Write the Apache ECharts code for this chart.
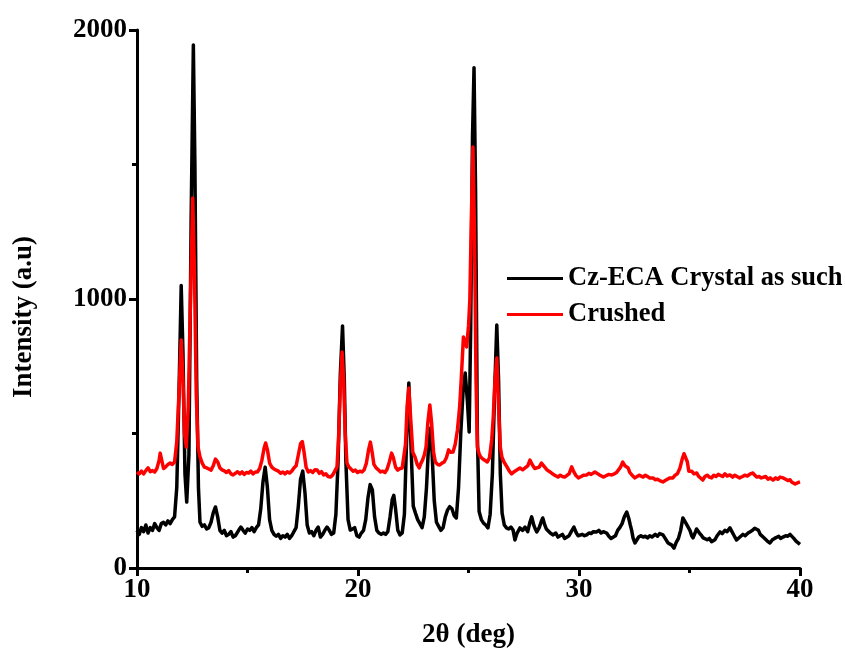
<!DOCTYPE html>
<html>
<head>
<meta charset="utf-8">
<script src="https://cdn.jsdelivr.net/npm/echarts@6/dist/echarts.min.js"></script>
<style>
  html, body { margin: 0; padding: 0; background: #fff; }
  #chart { width: 845px; height: 655px; }
</style>
</head>
<body>
<div id="chart"></div>
<script>
// Powder XRD patterns: [2θ (deg), intensity (a.u)]
const seriesNames = ['Cz-ECA Crystal as such', 'Crushed'];

const crystalPattern = [
  [10.0,140],[10.1,125],[10.2,150],[10.3,135],[10.4,160],[10.5,130],[10.6,150],[10.7,140],[10.8,165],[10.9,150],
  [11.0,140],[11.1,165],[11.2,170],[11.3,160],[11.4,175],[11.5,165],[11.6,180],[11.7,190],[11.8,300],[11.9,650],
  [12.0,1050],[12.08,800],[12.17,350],[12.25,245],[12.35,420],[12.45,1300],[12.55,1944],[12.62,1500],[12.7,700],[12.78,300],
  [12.85,170],[12.95,155],[13.05,160],[13.15,145],[13.25,150],[13.35,170],[13.45,205],[13.55,227],[13.65,190],[13.75,140],
  [13.85,130],[13.95,140],[14.05,120],[14.15,125],[14.25,135],[14.35,115],[14.45,120],[14.6,140],[14.7,152],[14.8,140],
  [14.9,130],[15.0,145],[15.1,140],[15.2,150],[15.3,135],[15.4,150],[15.5,160],[15.6,220],[15.7,320],[15.8,375],
  [15.9,300],[16.0,180],[16.1,140],[16.2,125],[16.3,118],[16.4,125],[16.5,110],[16.6,120],[16.7,115],[16.8,125],
  [16.9,110],[17.0,120],[17.1,135],[17.2,150],[17.3,230],[17.4,330],[17.5,360],[17.6,280],[17.7,160],[17.8,130],
  [17.9,135],[18.0,120],[18.1,140],[18.2,152],[18.3,115],[18.4,125],[18.5,140],[18.6,152],[18.7,140],[18.8,125],
  [18.9,130],[19.0,200],[19.1,400],[19.2,720],[19.3,900],[19.38,700],[19.45,400],[19.55,180],[19.65,141],[19.75,145],
  [19.85,150],[19.95,120],[20.05,115],[20.15,130],[20.25,140],[20.35,180],[20.45,260],[20.55,310],[20.65,290],[20.75,190],
  [20.85,140],[20.95,130],[21.05,125],[21.15,130],[21.25,125],[21.35,135],[21.45,190],[21.55,255],[21.62,270],[21.7,220],
  [21.8,140],[21.9,123],[22.0,130],[22.1,200],[22.2,480],[22.3,688],[22.4,450],[22.5,230],[22.6,204],[22.7,180],
  [22.8,165],[22.9,150],[23.0,190],[23.1,300],[23.2,470],[23.28,520],[23.35,430],[23.45,250],[23.55,170],[23.65,155],
  [23.75,140],[23.85,150],[23.95,190],[24.05,215],[24.15,228],[24.25,220],[24.35,195],[24.45,186],[24.55,300],[24.65,500],
  [24.75,650],[24.85,725],[24.95,620],[25.03,506],[25.1,900],[25.18,1600],[25.25,1860],[25.32,1400],[25.4,500],[25.48,210],
  [25.58,180],[25.68,167],[25.78,160],[25.88,149],[25.98,200],[26.08,350],[26.18,650],[26.28,903],[26.36,700],[26.44,350],
  [26.52,204],[26.62,160],[26.72,149],[26.82,145],[26.92,152],[27.02,140],[27.1,104],[27.2,130],[27.33,149],[27.45,140],
  [27.56,152],[27.68,135],[27.78,170],[27.86,190],[27.95,160],[28.02,145],[28.09,134],[28.2,150],[28.3,175],[28.36,186],
  [28.45,160],[28.52,145],[28.6,141],[28.7,130],[28.83,123],[28.95,130],[29.05,115],[29.14,115],[29.25,125],[29.35,110],
  [29.44,115],[29.55,120],[29.65,135],[29.77,152],[29.88,130],[29.96,120],[30.04,115],[30.15,125],[30.25,120],[30.35,123],
  [30.45,130],[30.55,128],[30.65,135],[30.8,134],[30.9,140],[31.0,130],[31.1,135],[31.25,130],[31.35,118],[31.45,110],
  [31.54,104],[31.65,120],[31.75,140],[31.86,152],[31.95,165],[32.05,190],[32.16,208],[32.25,185],[32.32,160],[32.38,141],
  [32.45,110],[32.53,93],[32.62,105],[32.7,115],[32.8,120],[32.9,115],[33.0,118],[33.1,112],[33.2,120],[33.3,115],
  [33.35,112],[33.45,125],[33.55,118],[33.65,128],[33.8,123],[33.9,110],[34.03,93],[34.12,100],[34.2,85],[34.3,74],
  [34.4,95],[34.5,110],[34.6,140],[34.7,186],[34.78,180],[34.85,165],[34.93,167],[35.02,140],[35.1,120],[35.16,112],
  [35.25,130],[35.32,145],[35.38,149],[35.45,130],[35.55,120],[35.62,112],[35.7,112],[35.8,105],[35.9,110],[36.0,98],
  [36.07,93],[36.15,105],[36.25,120],[36.38,134],[36.48,128],[36.6,140],[36.7,135],[36.83,149],[36.92,135],[37.02,120],
  [37.13,104],[37.22,110],[37.32,118],[37.42,125],[37.52,120],[37.65,130],[37.75,135],[37.85,140],[37.95,148],[38.04,152],
  [38.12,140],[38.2,125],[38.33,115],[38.42,110],[38.52,100],[38.64,93],[38.75,105],[38.85,110],[38.94,112],[39.04,118],
  [39.12,110],[39.23,115],[39.35,120],[39.45,118],[39.55,125],[39.62,123],[39.72,110],[39.82,100],[39.9,93],[40.0,88]
];

const crushedPattern = [
  [10.0,357],[10.1,350],[10.2,360],[10.3,350],[10.4,362],[10.5,372],[10.6,358],[10.7,362],[10.8,357],[10.9,370],
  [11.0,400],[11.05,427],[11.12,400],[11.2,370],[11.3,376],[11.4,385],[11.5,390],[11.6,385],[11.7,394],[11.8,470],
  [11.9,650],[12.0,848],[12.08,700],[12.15,500],[12.23,450],[12.32,600],[12.42,1000],[12.52,1375],[12.6,1100],[12.68,650],
  [12.76,450],[12.85,413],[12.95,390],[13.05,375],[13.15,372],[13.25,368],[13.35,364],[13.45,380],[13.55,405],[13.65,395],
  [13.75,372],[13.85,365],[13.95,361],[14.05,355],[14.15,362],[14.25,350],[14.35,346],[14.45,352],[14.55,358],[14.65,350],
  [14.75,357],[14.85,348],[14.95,355],[15.05,353],[15.15,360],[15.25,350],[15.35,357],[15.45,357],[15.55,370],[15.65,400],
  [15.75,445],[15.82,465],[15.9,440],[16.0,390],[16.1,375],[16.2,368],[16.3,364],[16.4,360],[16.5,352],[16.6,357],
  [16.7,350],[16.8,358],[16.9,353],[17.0,360],[17.1,372],[17.2,380],[17.3,420],[17.4,462],[17.48,470],[17.56,430],
  [17.65,375],[17.75,357],[17.85,362],[17.95,355],[18.05,365],[18.15,364],[18.25,352],[18.35,358],[18.45,346],[18.55,350],
  [18.65,340],[18.75,338],[18.85,345],[18.95,360],[19.05,376],[19.12,480],[19.2,680],[19.28,803],[19.35,700],[19.42,500],
  [19.5,390],[19.58,376],[19.68,368],[19.78,360],[19.88,364],[19.98,355],[20.08,360],[20.18,357],[20.28,365],[20.38,390],
  [20.48,440],[20.56,468],[20.64,430],[20.72,385],[20.82,372],[20.92,365],[21.02,357],[21.12,360],[21.22,355],[21.32,368],
  [21.42,395],[21.52,427],[21.6,410],[21.7,375],[21.8,364],[21.9,370],[22.0,372],[22.08,376],[22.15,460],[22.22,600],
  [22.3,669],[22.38,560],[22.48,430],[22.58,413],[22.68,385],[22.77,372],[22.85,390],[22.92,401],[23.0,420],[23.08,450],
  [23.16,540],[23.25,606],[23.33,540],[23.42,430],[23.5,394],[23.6,385],[23.7,383],[23.8,390],[23.9,394],[24.0,410],
  [24.1,439],[24.2,430],[24.3,431],[24.4,460],[24.5,513],[24.6,600],[24.67,699],[24.77,859],[24.85,840],[24.92,822],
  [25.0,900],[25.06,996],[25.13,1300],[25.2,1565],[25.27,1250],[25.34,700],[25.4,450],[25.48,425],[25.55,413],[25.65,405],
  [25.75,400],[25.85,394],[25.95,410],[26.05,476],[26.12,560],[26.2,700],[26.28,781],[26.36,600],[26.44,450],[26.51,413],
  [26.6,395],[26.65,394],[26.74,376],[26.85,360],[26.95,350],[27.0,346],[27.1,360],[27.2,365],[27.33,372],[27.45,365],
  [27.56,372],[27.68,380],[27.78,401],[27.88,385],[28.0,370],[28.09,364],[28.2,375],[28.3,390],[28.36,394],[28.45,375],
  [28.55,365],[28.69,357],[28.8,350],[28.9,345],[29.05,338],[29.15,345],[29.25,340],[29.35,338],[29.44,335],[29.55,350],
  [29.67,376],[29.75,360],[29.85,345],[29.97,335],[30.1,340],[30.2,345],[30.35,346],[30.45,352],[30.55,348],[30.72,357],
  [30.85,350],[30.95,345],[31.1,338],[31.2,342],[31.35,348],[31.48,346],[31.6,350],[31.7,355],[31.77,357],[31.88,375],
  [31.98,394],[32.08,380],[32.15,385],[32.22,372],[32.3,355],[32.4,345],[32.53,335],[32.62,340],[32.72,345],[32.8,340],
  [32.9,338],[33.0,345],[33.1,340],[33.2,335],[33.35,335],[33.45,328],[33.55,330],[33.65,325],[33.8,320],[33.9,325],
  [34.0,330],[34.1,335],[34.25,335],[34.35,345],[34.45,350],[34.57,372],[34.67,405],[34.75,425],[34.83,431],[34.9,395],
  [34.97,360],[35.02,353],[35.1,360],[35.2,350],[35.33,353],[35.42,340],[35.5,345],[35.6,327],[35.7,340],[35.8,345],
  [35.9,338],[36.0,335],[36.1,345],[36.2,340],[36.3,348],[36.38,346],[36.5,340],[36.6,350],[36.7,342],[36.83,346],
  [36.95,338],[37.05,345],[37.15,340],[37.27,335],[37.4,340],[37.5,345],[37.62,342],[37.75,350],[37.87,353],[37.95,345],
  [38.05,338],[38.15,340],[38.25,335],[38.33,335],[38.45,340],[38.55,330],[38.65,335],[38.78,327],[38.9,335],[39.0,330],
  [39.1,338],[39.23,335],[39.35,330],[39.45,325],[39.55,328],[39.62,320],[39.7,318],[39.78,312],[39.85,309],[39.92,318],
  [40.0,320]
];

const xTicks = [10, 20, 30, 40];
const yTicks = [0, 1000, 2000];

const FONT = '"Liberation Serif", "Times New Roman", serif';

const chart = echarts.init(document.getElementById('chart'), null, { renderer: 'canvas' });

const axisCommon = {
  axisLine: { show: true, lineStyle: { color: '#000', width: 3 } },
  axisTick: { show: true, inside: false, length: 8, lineStyle: { color: '#000', width: 3 } },
  minorTick: { show: true, splitNumber: 2, length: 5, lineStyle: { color: '#000', width: 3 } },
  splitLine: { show: false },
  axisLabel: {
    color: '#000', fontFamily: FONT, fontWeight: 'bold', fontSize: 27,
    formatter: (v) => String(v)
  },
  nameTextStyle: { color: '#000', fontFamily: FONT, fontWeight: 'bold', fontSize: 27 }
};

chart.setOption({
  animation: false,
  backgroundColor: '#fff',
  grid: { left: 137, right: 45, top: 30, bottom: 87, containLabel: false },
  legend: {
    orient: 'vertical',
    left: 502,
    top: 260,
    icon: 'rect',
    itemWidth: 56,
    itemHeight: 3,
    itemGap: 9,
    textStyle: { color: '#000', fontFamily: FONT, fontWeight: 'bold', fontSize: 26.5, lineHeight: 26 },
    data: seriesNames
  },
  xAxis: Object.assign({}, axisCommon, {
    type: 'value',
    min: xTicks[0],
    max: xTicks[xTicks.length - 1],
    interval: xTicks[1] - xTicks[0],
    name: '2θ (deg)',
    nameLocation: 'middle',
    nameGap: 54,
    axisLabel: Object.assign({}, axisCommon.axisLabel, { margin: 9 })
  }),
  yAxis: Object.assign({}, axisCommon, {
    type: 'value',
    min: yTicks[0],
    max: yTicks[yTicks.length - 1],
    interval: yTicks[1] - yTicks[0],
    name: 'Intensity (a.u)',
    nameLocation: 'middle',
    nameRotate: 90,
    nameGap: 99,
    nameTextStyle: Object.assign({}, axisCommon.nameTextStyle, { padding: [0, 36, 0, 0] }),
    axisLabel: Object.assign({}, axisCommon.axisLabel, { margin: 10 })
  }),
  series: [
    {
      name: seriesNames[0],
      type: 'line',
      data: crystalPattern,
      showSymbol: false,
      symbol: 'none',
      lineStyle: { color: '#000', width: 3.5, join: 'round' },
      itemStyle: { color: '#000' },
      z: 2
    },
    {
      name: seriesNames[1],
      type: 'line',
      data: crushedPattern,
      showSymbol: false,
      symbol: 'none',
      lineStyle: { color: '#ff0000', width: 3.5, join: 'round' },
      itemStyle: { color: '#ff0000' },
      z: 3
    }
  ]
});
</script>
</body>
</html>
